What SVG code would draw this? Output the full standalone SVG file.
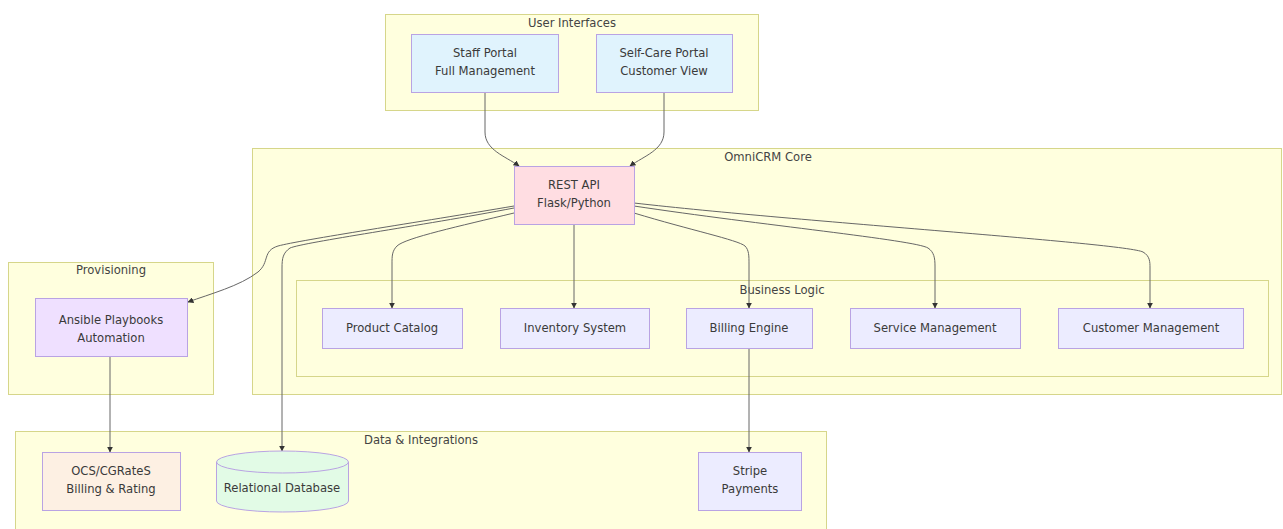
<svg xmlns="http://www.w3.org/2000/svg" width="1283" height="529" viewBox="0 0 1283 529">
  <style>
    .cluster { fill: #ffffde; stroke: #d6d68a; stroke-width: 1; }
    .ctitle { font-family: "DejaVu Sans", Verdana, sans-serif; font-size: 11.6px; fill: #444; text-anchor: middle; }
    .node { stroke: #b9a3e3; stroke-width: 1; }
    .label { font-family: "DejaVu Sans", Verdana, sans-serif; font-size: 11.6px; fill: #3a3a3a; text-anchor: middle; }
    .edge { fill: none; stroke: #666; stroke-width: 1; marker-end: url(#arrow); }
  </style>
  <defs>
    <marker id="arrow" viewBox="0 0 10 10" refX="9" refY="5" markerWidth="6" markerHeight="6" markerUnits="userSpaceOnUse" orient="auto">
      <path d="M0,0 L10,5 L0,10 z" fill="#333"/>
    </marker>
  </defs>

  <rect width="1283" height="529" fill="#ffffff"/>

  <!-- subgraphs -->
  <g id="cluster-ui">
    <rect class="cluster" x="385.5" y="14.5" width="373" height="96"/>
    <text class="ctitle" x="572" y="27">User Interfaces</text>
  </g>
  <g id="cluster-core">
    <rect class="cluster" x="252.5" y="148.5" width="1029" height="246"/>
    <text class="ctitle" x="768" y="161">OmniCRM Core</text>
  </g>
  <g id="cluster-logic">
    <rect class="cluster" x="296.5" y="280.5" width="972" height="96"/>
    <text class="ctitle" x="782" y="294">Business Logic</text>
  </g>
  <g id="cluster-prov">
    <rect class="cluster" x="8.5" y="262.5" width="205" height="132"/>
    <text class="ctitle" x="111" y="274">Provisioning</text>
  </g>
  <g id="cluster-data">
    <rect class="cluster" x="15.5" y="431.5" width="811" height="110"/>
    <text class="ctitle" x="421" y="444">Data &amp; Integrations</text>
  </g>

  <!-- connectors -->
  <g id="connectors">
    <path class="edge" d="M485,92 V132 C485,150 505,156 519,166"/>
    <path class="edge" d="M664,92 V132 C664,150 644,156 630,166"/>
    <path class="edge" d="M514,206 C420,222 300,240 278,246 C262,251 270,262 258,272 C240,286 210,294 188,302"/>
    <path class="edge" d="M514,208 C420,226 305,242 290,248 C283,253 282,258 282,268 V451"/>
    <path class="edge" d="M514,213 C460,226 405,238 397,246 C392,251 392,256 392,264 V308"/>
    <path class="edge" d="M574,224 V308"/>
    <path class="edge" d="M634,213 C690,230 738,240 745,246 C749,250 749,256 749,264 V308"/>
    <path class="edge" d="M634,206 C760,225 915,240 928,248 C934,252 935,258 935,266 V308"/>
    <path class="edge" d="M634,203 C800,222 1125,243 1143,252 C1150,256 1150,262 1150,268 V308"/>
    <path class="edge" d="M749,348 V452"/>
    <path class="edge" d="M110,356 V452"/>
  </g>

  <!-- nodes -->
  <g id="staff-portal">
    <rect class="node" x="411.5" y="34.5" width="147" height="58" fill="#e0f3fd"/>
    <text class="label" x="485" y="57">Staff Portal</text>
    <text class="label" x="485" y="75">Full Management</text>
  </g>
  <g id="selfcare-portal">
    <rect class="node" x="596.5" y="34.5" width="136" height="58" fill="#e0f3fd"/>
    <text class="label" x="664" y="57">Self-Care Portal</text>
    <text class="label" x="664" y="75">Customer View</text>
  </g>
  <g id="rest-api">
    <rect class="node" x="514.5" y="166.5" width="120" height="58" fill="#ffdde2"/>
    <text class="label" x="574" y="189">REST API</text>
    <text class="label" x="574" y="207">Flask/Python</text>
  </g>
  <g id="product-catalog">
    <rect class="node" x="322.5" y="308.5" width="140" height="40" fill="#ececff"/>
    <text class="label" x="392" y="332">Product Catalog</text>
  </g>
  <g id="inventory-system">
    <rect class="node" x="500.5" y="308.5" width="149" height="40" fill="#ececff"/>
    <text class="label" x="575" y="332">Inventory System</text>
  </g>
  <g id="billing-engine">
    <rect class="node" x="686.5" y="308.5" width="126" height="40" fill="#ececff"/>
    <text class="label" x="749" y="332">Billing Engine</text>
  </g>
  <g id="service-management">
    <rect class="node" x="850.5" y="308.5" width="170" height="40" fill="#ececff"/>
    <text class="label" x="935" y="332">Service Management</text>
  </g>
  <g id="customer-management">
    <rect class="node" x="1058.5" y="308.5" width="185" height="40" fill="#ececff"/>
    <text class="label" x="1151" y="332">Customer Management</text>
  </g>
  <g id="ansible">
    <rect class="node" x="35.5" y="298.5" width="152" height="58" fill="#efe0ff"/>
    <text class="label" x="111" y="324">Ansible Playbooks</text>
    <text class="label" x="111" y="342">Automation</text>
  </g>
  <g id="ocs-cgrates">
    <rect class="node" x="42.5" y="452.5" width="138" height="58" fill="#fdf0e3"/>
    <text class="label" x="111" y="475">OCS/CGRateS</text>
    <text class="label" x="111" y="493">Billing &amp; Rating</text>
  </g>
  <g id="database">
    <path class="node" fill="#e2fbe6" d="M216.5,462 A66,11 0 0 1 348.5,462 V501 A66,11 0 0 1 216.5,501 Z"/>
    <path fill="none" stroke="#b9a3e3" stroke-width="1" d="M216.5,462 A66,11 0 0 0 348.5,462"/>
    <text class="label" x="282" y="492">Relational Database</text>
  </g>
  <g id="stripe">
    <rect class="node" x="698.5" y="452.5" width="103" height="58" fill="#ececff"/>
    <text class="label" x="750" y="475">Stripe</text>
    <text class="label" x="750" y="493">Payments</text>
  </g>
</svg>
